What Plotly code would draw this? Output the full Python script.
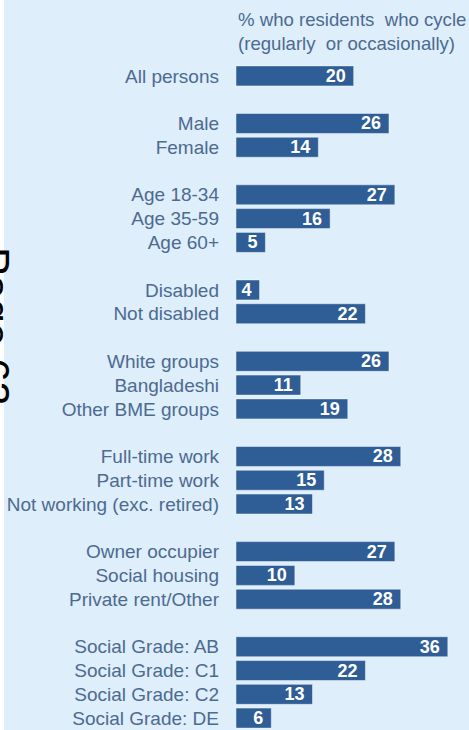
import plotly.graph_objects as go

# Survey groups and the % of residents in each who cycle
all_persons = ["All persons"]
all_persons_pct = [20]

gender = ["Male", "Female"]
gender_pct = [26, 14]

age = ["Age 18-34", "Age 35-59", "Age 60+"]
age_pct = [27, 16, 5]

disability = ["Disabled", "Not disabled"]
disability_pct = [4, 22]

ethnicity = ["White groups", "Bangladeshi", "Other BME groups"]
ethnicity_pct = [26, 11, 19]

work = ["Full-time work", "Part-time work", "Not working (exc. retired)"]
work_pct = [28, 15, 13]

tenure = ["Owner occupier", "Social housing", "Private rent/Other"]
tenure_pct = [27, 10, 28]

social_grade = ["Social Grade: AB", "Social Grade: C1", "Social Grade: C2", "Social Grade: DE"]
social_grade_pct = [36, 22, 13, 6]

title_lines = ["% who residents  who cycle", "(regularly  or occasionally)"]

groups = [
    (all_persons, all_persons_pct),
    (gender, gender_pct),
    (age, age_pct),
    (disability, disability_pct),
    (ethnicity, ethnicity_pct),
    (work, work_pct),
    (tenure, tenure_pct),
    (social_grade, social_grade_pct),
]

BAR = "#2f5d95"
TEXT = "#4d6a90"
BG = "#deeefb"
FONT = "Liberation Sans, Arial, sans-serif"

# Category order with an empty row between consecutive groups
order, labels, values = [], [], []
for i, (cats, vals) in enumerate(groups):
    if i > 0:
        order.append(" " * i)
    order.extend(cats)
    labels.extend(cats)
    values.extend(vals)

fig = go.Figure(
    go.Bar(
        x=values,
        y=labels,
        orientation="h",
        width=0.84,
        marker=dict(color=BAR, line=dict(color="rgba(255,255,255,0.45)", width=1)),
        texttemplate="<b>%{x}</b>\u00a0",
        textposition="inside",
        insidetextanchor="end",
        textangle=0,
        constraintext="none",
        textfont=dict(color="white", size=18, family=FONT),
        hoverinfo="skip",
    )
)

fig.update_yaxes(
    type="category",
    categoryarray=order,
    range=[len(order) - 0.5, -0.5],
    showgrid=False,
    zeroline=False,
    showline=False,
    ticks="",
    ticklabelstandoff=16,
    tickfont=dict(size=19, color=TEXT, family=FONT),
)
fig.update_xaxes(
    range=[0, 39.6],
    visible=False,
    showgrid=False,
    zeroline=False,
)

fig.add_annotation(
    xref="paper", yref="paper", x=0, y=1, yshift=57,
    xanchor="left", yanchor="top", align="left", showarrow=False,
    text="<br>".join(title_lines),
    font=dict(size=18.6, color=TEXT, family=FONT),
)

# page number running down the left edge
fig.add_annotation(
    xref="paper", yref="paper", x=-236 / 233, y=1, xshift=-5, yshift=-181,
    xanchor="center", yanchor="top", showarrow=False, textangle=90,
    text="Page 63",
    font=dict(size=42.5, color="black", family=FONT),
)

# thin white strip along the left border
fig.add_shape(
    type="rect", xref="paper", yref="paper",
    x0=-240 / 233, x1=-232 / 233, y0=-0.1, y1=1.2,
    fillcolor="white", line=dict(width=0), layer="below",
)

fig.update_layout(
    width=469,
    height=730,
    margin=dict(l=236, r=0, t=64, b=0),
    paper_bgcolor=BG,
    plot_bgcolor=BG,
    showlegend=False,
    bargap=0.16,
)

fig.write_html("out.html")
